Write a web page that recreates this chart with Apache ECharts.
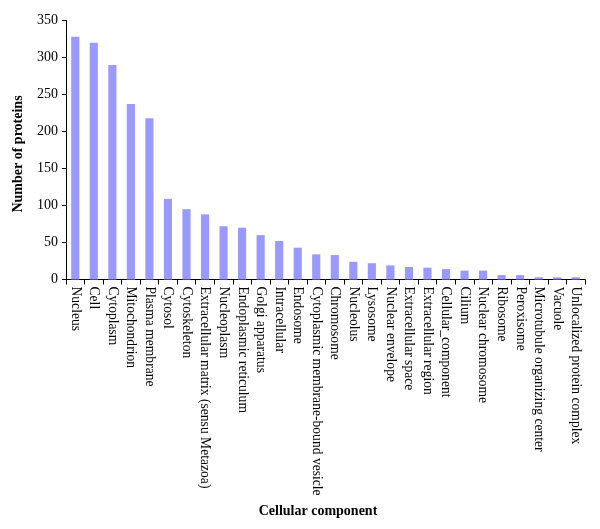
<!DOCTYPE html>
<html><head><meta charset="utf-8">
<script src="https://cdn.jsdelivr.net/npm/echarts@6/dist/echarts.min.js"></script>
<style>html,body{margin:0;padding:0;background:#fff}#c{width:600px;height:529px}</style>
</head><body><div id="c"></div>
<script>
const categories = ["Nucleus","Cell","Cytoplasm","Mitochondrion","Plasma membrane","Cytosol","Cytoskeleton","Extracellular matrix (sensu Metazoa)","Nucleoplasm","Endoplasmic reticulum","Golgi apparatus","Intracellular","Endosome","Cytoplasmic membrane-bound vesicle","Chromosome","Nucleolus","Lysosome","Nuclear envelope","Extracellular space","Extracellular region","Cellular_component","Cilium","Nuclear chromosome","Ribosome","Peroxisome","Microtubule organizing center","Vacuole","Unlocalized protein complex"];
const proteinCounts = [328,320,290,237,218,109,95,88,72,70,60,52,43,34,33,24,22,19,17,16,14,12,12,6,6,3,3,3];
const yTicks = {min:0, max:350, interval:50};
const font = "'Liberation Serif','Times New Roman',serif";
const chart = echarts.init(document.getElementById('c'));
chart.setOption({
  animation:false,
  grid:{left:66,right:15,top:20.5,bottom:249.5},
  xAxis:{type:'category',data:categories,
    axisLine:{lineStyle:{color:'#000',width:1}},
    axisTick:{show:true,alignWithLabel:false,length:5,lineStyle:{color:'#000'}},
    axisLabel:{rotate:-90,interval:0,margin:7,color:'#000',fontFamily:font,fontSize:13.6}},
  yAxis:{type:'value',min:yTicks.min,max:yTicks.max,interval:yTicks.interval,
    axisLine:{show:true,lineStyle:{color:'#000',width:1}},
    axisTick:{show:true,length:4,lineStyle:{color:'#000'}},
    splitLine:{show:false},
    axisLabel:{color:'#000',fontFamily:font,fontSize:14,margin:8}},
  series:[{type:'bar',data:proteinCounts,barCategoryGap:'56%',itemStyle:{color:'#9999FF'}}],
  graphic:[
    {type:'text',x:318,y:511,style:{text:'Cellular component',font:"bold 14px "+font,fill:'#000',align:'center',verticalAlign:'middle'}},
    {type:'text',x:18.5,y:154,rotation:Math.PI/2,style:{text:'Number of proteins',font:"bold 14px "+font,fill:'#000',align:'center',verticalAlign:'middle'}}
  ]
});
</script></body></html>
